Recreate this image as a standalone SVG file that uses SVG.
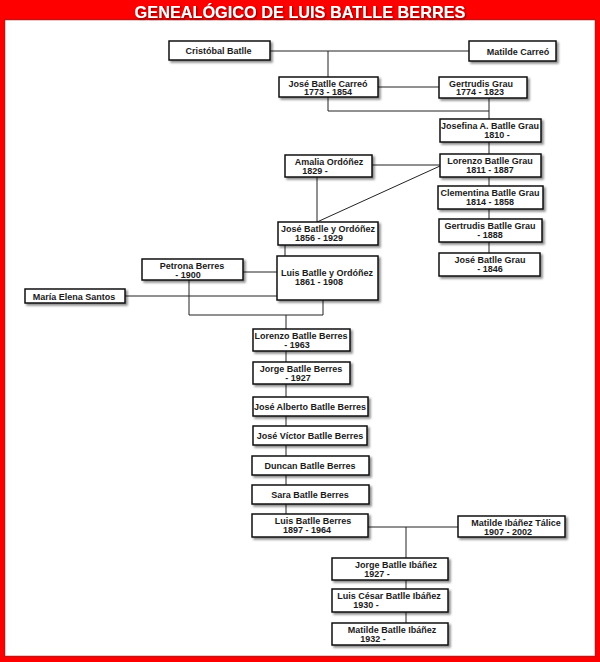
<svg xmlns="http://www.w3.org/2000/svg" width="600" height="662" viewBox="0 0 600 662">
<defs>
<filter id="sh" x="-10%" y="-20%" width="130%" height="160%">
<feDropShadow dx="2" dy="2" stdDeviation="1.2" flood-color="#000" flood-opacity="0.45"/>
</filter>
<filter id="tsh" x="-5%" y="-30%" width="110%" height="160%">
<feDropShadow dx="1" dy="1" stdDeviation="0.8" flood-color="#400" flood-opacity="0.8"/>
</filter>
<style>
.box{fill:#fff;stroke:#111;stroke-width:1.5;filter:url(#sh)}
.t{font-family:"Liberation Sans",Arial,sans-serif;font-weight:bold;font-size:9px;fill:#1a1a1a;text-anchor:middle}
.c{fill:none;stroke:#222;stroke-width:1}
.title{font-family:"Liberation Sans",Arial,sans-serif;font-weight:bold;font-size:16.3px;fill:#fff;text-anchor:middle;filter:url(#tsh)}
</style>
</defs>
<rect x="0" y="0" width="600" height="662" fill="#ff0000"/>
<rect x="4.5" y="19.5" width="591" height="637" fill="#fff" stroke="#c81010" stroke-width="1.5"/>
<text class="title" x="300" y="17.5">GENEALÓGICO DE LUIS BATLLE BERRES</text>

<g id="connectors">
<line class="c" x1="270" y1="51" x2="469" y2="51"/>
<line class="c" x1="328" y1="51" x2="328" y2="77"/>
<line class="c" x1="378" y1="87" x2="439" y2="87"/>
<polyline class="c" points="328,97 328,111 489,111"/>
<line class="c" x1="489" y1="98" x2="489" y2="119"/>
<line class="c" x1="489" y1="142" x2="489" y2="154"/>
<line class="c" x1="489" y1="177" x2="489" y2="186"/>
<line class="c" x1="489" y1="209" x2="489" y2="219"/>
<line class="c" x1="489" y1="242" x2="489" y2="253"/>
<line class="c" x1="372" y1="165" x2="440" y2="165"/>
<line class="c" x1="440" y1="166" x2="317" y2="222"/>
<line class="c" x1="317" y1="177" x2="317" y2="222"/>
<line class="c" x1="285" y1="245" x2="285" y2="256"/>
<line class="c" x1="243" y1="272" x2="277" y2="272"/>
<line class="c" x1="125" y1="296" x2="277" y2="296"/>
<polyline class="c" points="189,280 189,315 323,315 323,300"/>
<line class="c" x1="286" y1="315" x2="286" y2="329"/>
<line class="c" x1="286" y1="351" x2="286" y2="362"/>
<line class="c" x1="286" y1="384" x2="286" y2="397"/>
<line class="c" x1="286" y1="416" x2="286" y2="426"/>
<line class="c" x1="286" y1="445" x2="286" y2="456"/>
<line class="c" x1="286" y1="475" x2="286" y2="485"/>
<line class="c" x1="286" y1="504" x2="286" y2="514"/>
<line class="c" x1="368" y1="527" x2="458" y2="527"/>
<line class="c" x1="406" y1="527" x2="406" y2="558"/>
<line class="c" x1="406" y1="580" x2="406" y2="589"/>
<line class="c" x1="406" y1="612" x2="406" y2="623"/>
</g>

<g id="cristobal"><rect class="box" x="169" y="41" width="101" height="19"/><text class="t" x="218.5" y="54">Cristóbal Batlle</text></g>
<g id="matilde-carreo"><rect class="box" x="469" y="41" width="87" height="20"/><text class="t" x="518" y="54.5">Matilde Carreó</text></g>
<g id="jose-batlle-carreo"><rect class="box" x="279" y="77" width="99" height="20"/><text class="t" x="328" y="86.5">José Batlle Carreó</text><text class="t" x="328" y="95">1773 - 1854</text></g>
<g id="gertrudis-grau"><rect class="box" x="439" y="77" width="88" height="21"/><text class="t" x="481" y="86.5">Gertrudis Grau</text><text class="t" x="480" y="95">1774 - 1823</text></g>
<g id="josefina"><rect class="box" x="440" y="119" width="101" height="23"/><text class="t" x="490" y="129">Josefina A. Batlle Grau</text><text class="t" x="497" y="138">1810 -</text></g>
<g id="lorenzo-grau"><rect class="box" x="440" y="154" width="101" height="23"/><text class="t" x="490" y="164">Lorenzo Batlle Grau</text><text class="t" x="490" y="173">1811 - 1887</text></g>
<g id="clementina"><rect class="box" x="438" y="186" width="105" height="23"/><text class="t" x="490" y="196">Clementina Batlle Grau</text><text class="t" x="490" y="205">1814 - 1858</text></g>
<g id="gertrudis-batlle"><rect class="box" x="439" y="219" width="103" height="23"/><text class="t" x="490" y="229">Gertrudis Batlle Grau</text><text class="t" x="490" y="238">- 1888</text></g>
<g id="jose-batlle-grau"><rect class="box" x="439" y="253" width="101" height="23"/><text class="t" x="490" y="263">José Batlle Grau</text><text class="t" x="490" y="272">- 1846</text></g>
<g id="amalia"><rect class="box" x="285" y="155" width="87" height="22"/><text class="t" x="329" y="165">Amalia Ordóñez</text><text class="t" x="315" y="174">1829 -</text></g>
<g id="jose-batlle-ordonez"><rect class="box" x="278" y="222" width="100" height="23"/><text class="t" x="328" y="232">José Batlle y Ordóñez</text><text class="t" x="319" y="241">1856 - 1929</text></g>
<g id="luis-batlle-ordonez"><rect class="box" x="277" y="256" width="101" height="44"/><text class="t" x="327" y="276">Luis Batlle y Ordóñez</text><text class="t" x="319" y="285">1861 - 1908</text></g>
<g id="petrona"><rect class="box" x="142" y="259" width="101" height="21"/><text class="t" x="192" y="269">Petrona Berres</text><text class="t" x="188" y="278"> -  1900</text></g>
<g id="maria-elena"><rect class="box" x="25" y="289" width="100" height="14"/><text class="t" x="74" y="299.5">María Elena Santos</text></g>
<g id="lorenzo-berres"><rect class="box" x="253" y="329" width="97" height="22"/><text class="t" x="301" y="339">Lorenzo Batlle Berres</text><text class="t" x="297" y="348">- 1963</text></g>
<g id="jorge-berres"><rect class="box" x="253" y="362" width="97" height="22"/><text class="t" x="301" y="372">Jorge Batlle Berres</text><text class="t" x="298" y="381">- 1927</text></g>
<g id="jose-alberto"><rect class="box" x="253" y="397" width="115" height="19"/><text class="t" x="310" y="410">José Alberto Batlle Berres</text></g>
<g id="jose-victor"><rect class="box" x="253" y="426" width="114" height="19"/><text class="t" x="310" y="439">José Víctor  Batlle Berres</text></g>
<g id="duncan"><rect class="box" x="252" y="456" width="117" height="19"/><text class="t" x="310" y="469">Duncan Batlle Berres</text></g>
<g id="sara"><rect class="box" x="252" y="485" width="117" height="19"/><text class="t" x="310" y="498">Sara Batlle Berres</text></g>
<g id="luis-berres"><rect class="box" x="252" y="514" width="116" height="23"/><text class="t" x="313" y="524">Luis Batlle Berres</text><text class="t" x="307" y="533">1897 - 1964</text></g>
<g id="matilde-ibanez"><rect class="box" x="458" y="516" width="107" height="21"/><text class="t" x="516" y="526">Matilde Ibáñez Tálice</text><text class="t" x="508" y="535">1907 - 2002</text></g>
<g id="jorge-ibanez"><rect class="box" x="332" y="558" width="116" height="22"/><text class="t" x="396" y="568">Jorge Batlle Ibáñez</text><text class="t" x="377" y="577">1927 -</text></g>
<g id="luis-cesar"><rect class="box" x="332" y="589" width="116" height="23"/><text class="t" x="389" y="599">Luis César Batlle Ibáñez</text><text class="t" x="366" y="608">1930 -</text></g>
<g id="matilde-ibanez-hija"><rect class="box" x="332" y="623" width="116" height="22"/><text class="t" x="392" y="633">Matilde Batlle Ibáñez</text><text class="t" x="373" y="642">1932 -</text></g>
</svg>
